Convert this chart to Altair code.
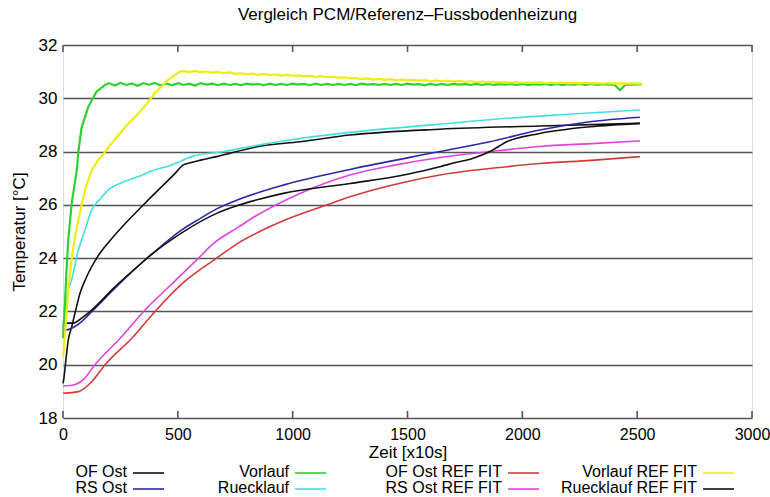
import altair as alt
import pandas as pd

FONT = "Liberation Sans"

# ---------------- data ----------------
x_ticks = [0, 500, 1000, 1500, 2000, 2500, 3000]
y_ticks = [18, 20, 22, 24, 26, 28, 30, 32]

series_names = ["OF Ost", "RS Ost", "Vorlauf", "Ruecklauf",
                "OF Ost REF FIT", "RS Ost REF FIT", "Vorlauf REF FIT", "Ruecklauf REF FIT"]
series_colors = ["#111111", "#2a2aa6", "#2fd02f", "#45dede",
                 "#d33b3b", "#e044e0", "#eded10", "#111111"]

of_ost_t = [0, 4, 11, 23, 38, 52, 74, 103, 146, 219, 357, 488, 524, 545, 600, 669, 857, 1032, 1249, 1641, 2076, 2512]
of_ost_v = [19.3, 19.5, 20.05, 20.93, 21.43, 21.93, 22.68, 23.3, 23.99, 24.8, 26.06, 27.18, 27.5, 27.56, 27.68, 27.81,
            28.2, 28.37, 28.62, 28.84, 28.96, 29.06]

rs_ost_t = [0, 9, 38, 81, 125, 226, 357, 380, 517, 600, 669, 770, 959, 1249, 1641, 1859, 2076, 2294, 2512]
rs_ost_v = [21.3, 21.3, 21.37, 21.62, 21.99, 22.87, 23.93, 24.1, 25.06, 25.5, 25.85, 26.22, 26.74, 27.33, 28.0,
            28.37, 28.81, 29.12, 29.29]

vorlauf_t = [0, 8, 15, 23, 38, 60, 67, 81, 110, 146, 183] + list(range(200, 2501, 25)) + [2520]
vorlauf_v = [21.0, 22.2, 23.5, 24.7, 26.06, 27.3, 28.0, 28.9, 29.68, 30.25, 30.5,
             30.57, 30.48, 30.58, 30.50, 30.56, 30.47, 30.57, 30.51, 30.58, 30.48,
             30.56, 30.49, 30.57, 30.50, 30.55, 30.48, 30.57, 30.51, 30.55, 30.49,
             30.55, 30.50, 30.54, 30.49, 30.55, 30.51, 30.54, 30.49, 30.55, 30.50,
             30.54, 30.50, 30.55, 30.51, 30.54, 30.49, 30.55, 30.50, 30.54, 30.50,
             30.54, 30.50, 30.54, 30.49, 30.55, 30.51, 30.53, 30.50, 30.54, 30.50,
             30.54, 30.50, 30.55, 30.51, 30.53, 30.49, 30.54, 30.50, 30.54, 30.50,
             30.54, 30.51, 30.53, 30.50, 30.54, 30.50, 30.54, 30.50, 30.53, 30.51,
             30.54, 30.50, 30.54, 30.50, 30.53, 30.51, 30.54, 30.50, 30.54, 30.50,
             30.53, 30.51, 30.54, 30.50, 30.54, 30.50, 30.53, 30.51, 30.52, 30.30,
             30.52, 30.51, 30.52,
             30.52]

ruecklauf_t = [0, 10, 20, 38, 67, 96, 125, 160, 197, 260, 328, 379, 473, 524, 560, 700, 857, 1000, 1249, 1641,
               1933, 2200, 2512]
ruecklauf_v = [21.4, 22.2, 22.7, 23.2, 24.3, 25.06, 25.81, 26.2, 26.56, 26.85, 27.06, 27.25, 27.5, 27.68, 27.81,
               28.0, 28.25, 28.45, 28.72, 29.03, 29.25, 29.4, 29.56]

of_ref_t = [0, 67, 125, 183, 306, 400, 520, 669, 770, 857, 959, 1150, 1249, 1496, 1641, 1932, 2076, 2300, 2512]
of_ref_v = [18.93, 18.99, 19.36, 20.0, 21.05, 21.99, 23.05, 24.0, 24.6, 25.0, 25.4, 26.0, 26.3, 26.87, 27.12,
            27.43, 27.55, 27.67, 27.81]

rs_ref_t = [0, 50, 90, 139, 255, 350, 470, 589, 647, 770, 814, 1032, 1249, 1450, 1641, 1859, 2076, 2300, 2512]
rs_ref_v = [19.2, 19.25, 19.45, 20.0, 21.05, 21.99, 23.0, 23.99, 24.49, 25.2, 25.45, 26.43, 27.12, 27.5, 27.78,
            28.0, 28.19, 28.3, 28.4]

vorlauf_ref_t = [0, 6, 20, 35, 52, 81, 100, 125, 150, 175, 190, 220, 255, 290, 328, 365, 400, 430, 458, 490,
                 510] + list(range(525, 2501, 25)) + [2520]
vorlauf_ref_v = [20.3, 20.8, 22.5, 23.8, 24.8, 26.0, 26.7, 27.3, 27.65, 27.9, 28.06, 28.4, 28.75, 29.1, 29.43,
                 29.8, 30.19, 30.45, 30.69, 30.9, 31.0,
                 31.02, 30.98, 31.03, 30.98, 31.01, 30.96, 30.99, 30.94, 30.97, 30.92,
                 30.94, 30.90, 30.93, 30.88, 30.91, 30.87, 30.90, 30.85, 30.88, 30.84,
                 30.86, 30.82, 30.85, 30.80, 30.83, 30.79, 30.81, 30.77, 30.79, 30.75,
                 30.76, 30.72, 30.75, 30.70, 30.73, 30.69, 30.72, 30.68, 30.70, 30.67,
                 30.69, 30.66, 30.68, 30.64, 30.67, 30.64, 30.66, 30.63, 30.65, 30.62,
                 30.64, 30.61, 30.63, 30.60, 30.62, 30.60, 30.61, 30.59, 30.61, 30.58,
                 30.60, 30.58, 30.60, 30.57, 30.59, 30.57, 30.59, 30.56, 30.58, 30.56,
                 30.58, 30.56, 30.57, 30.55, 30.57, 30.55, 30.56, 30.55, 30.56, 30.55,
                 30.55]

rueck_ref_t = [0, 45, 81, 125, 226, 357, 380, 517, 669, 770, 850, 959, 1249, 1500, 1641, 1700, 1786, 1859, 1932,
               2076, 2294, 2512]
rueck_ref_v = [21.56, 21.56, 21.75, 22.05, 22.92, 23.93, 24.1, 24.95, 25.68, 26.0, 26.2, 26.43, 26.8, 27.15, 27.43,
               27.57, 27.75, 28.0, 28.37, 28.68, 28.93, 29.06]

all_t = [of_ost_t, rs_ost_t, vorlauf_t, ruecklauf_t, of_ref_t, rs_ref_t, vorlauf_ref_t, rueck_ref_t]
all_v = [of_ost_v, rs_ost_v, vorlauf_v, ruecklauf_v, of_ref_v, rs_ref_v, vorlauf_ref_v, rueck_ref_v]
noisy = ["Vorlauf", "Vorlauf REF FIT"]

rows = []
for name, ts, vs in zip(series_names, all_t, all_v):
    assert len(ts) == len(vs), name
    for i, (t, v) in enumerate(zip(ts, vs)):
        rows.append({"series": name, "t": t, "T": v, "i": i})
df = pd.DataFrame(rows)

# ---------------- chart ----------------
W, H = 689, 373
GRID = "#555555"

x_axis = alt.Axis(values=x_ticks, format="d", title="Zeit [x10s]", ticks=False, domain=False, grid=False,
                  labelPadding=8, titlePadding=2, labelFontSize=16, titleFontSize=17,
                  labelFont=FONT, titleFont=FONT, titleFontWeight="normal",
                  labelColor="#000000", titleColor="#000000", labelFlush=False)
x_enc = alt.X("t:Q", scale=alt.Scale(domain=[0, 3000], nice=False, zero=False), axis=x_axis)

y_axis = alt.Axis(values=y_ticks, format="d", title="Temperatur [°C]", ticks=False, domain=False, grid=True,
                  gridColor=GRID, gridWidth=1.6, gridOpacity=1,
                  labelPadding=6, titlePadding=10, labelFontSize=17, titleFontSize=17,
                  labelFont=FONT, titleFont=FONT, titleFontWeight="normal",
                  labelColor="#000000", titleColor="#000000", labelFlush=False)
y_enc = alt.Y("T:Q", scale=alt.Scale(domain=[18, 32], nice=False, zero=False), axis=y_axis)

color_enc = alt.Color("series:N", scale=alt.Scale(domain=series_names, range=series_colors), legend=None)

smooth = alt.Chart(df).transform_filter(
    alt.FieldOneOfPredicate(field="series", oneOf=[s for s in series_names if s not in noisy])
).mark_line(strokeWidth=1.6, interpolate="monotone").encode(
    x=x_enc, y=y_enc, color=color_enc, order="i:Q"
)
noisy_lines = alt.Chart(df).transform_filter(
    alt.FieldOneOfPredicate(field="series", oneOf=noisy)
).mark_line(strokeWidth=2.2).encode(
    x=x_enc, y=y_enc, color=color_enc, order="i:Q"
)

tick_df = pd.DataFrame({"t": x_ticks})
ticks_top = alt.Chart(tick_df).mark_rule(color=GRID, strokeWidth=1.6).encode(
    x=x_enc, y=alt.value(0), y2=alt.value(7))
ticks_bot = alt.Chart(tick_df).mark_rule(color=GRID, strokeWidth=1.6).encode(
    x=x_enc, y=alt.value(H - 7), y2=alt.value(H))

# legend (bottom, 4 columns x 2 rows, label then line sample)
col_right = [64, 226, 439, 634]
row_y = [427, 443]
legend_layers = []
for k, (name, col) in enumerate(zip(series_names, series_colors)):
    c, r = k // 2, k % 2
    ldf = pd.DataFrame({"label": [name]})
    legend_layers.append(
        alt.Chart(ldf).mark_text(align="right", baseline="middle", font=FONT, fontSize=16,
                                 color="#000000").encode(
            text="label:N", x=alt.value(col_right[c]), y=alt.value(row_y[r])))
    legend_layers.append(
        alt.Chart(ldf).mark_rule(color=col, strokeWidth=1.6).encode(
            x=alt.value(col_right[c] + 6), x2=alt.value(col_right[c] + 37), y=alt.value(row_y[r] + 1)))

chart = alt.layer(ticks_top, ticks_bot, smooth, noisy_lines, *legend_layers).properties(
    width=W, height=H,
    title=alt.Title("Vergleich PCM/Referenz–Fussbodenheizung", font=FONT, fontSize=17,
                    fontWeight="normal", color="#000000", anchor="middle", offset=12),
    autosize=alt.AutoSizeParams(type="none"),
    padding={"left": 63, "top": 45, "right": 18, "bottom": 79},
).configure_view(stroke=None).configure(background="white")

chart.save("out.html", embed_options={"renderer": "svg", "actions": False})
